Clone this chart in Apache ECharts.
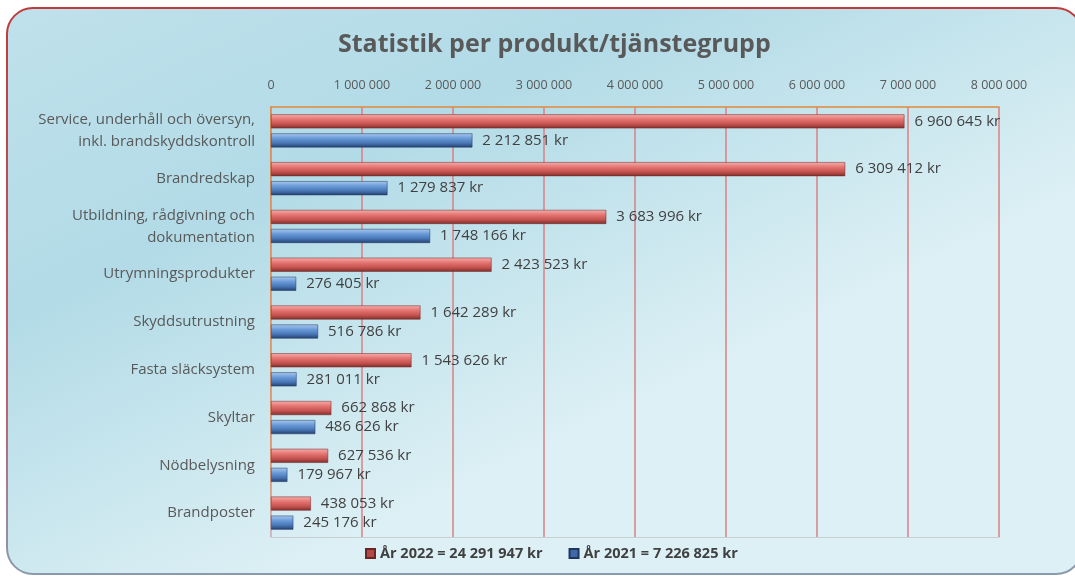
<!DOCTYPE html>
<html>
<head>
<meta charset="utf-8">
<script src="https://cdn.jsdelivr.net/npm/echarts@6/dist/echarts.min.js"></script>
<style>
html, body { margin: 0; padding: 0; background: #fff; }
#chart { width: 1075px; height: 576px; }
</style>
</head>
<body>
<div id="chart"></div>
<script>
// kategorier, uppifrån och ned
const categories = [
    'Service, underhåll och översyn,\ninkl. brandskyddskontroll',
    'Brandredskap',
    'Utbildning, rådgivning och\ndokumentation',
    'Utrymningsprodukter',
    'Skyddsutrustning',
    'Fasta släcksystem',
    'Skyltar',
    'Nödbelysning',
    'Brandposter'
];
const values2022 = [6960645, 6309412, 3683996, 2423523, 1642289, 1543626, 662868, 627536, 438053];
const values2021 = [2212851, 1279837, 1748166, 276405, 516786, 281011, 486626, 179967, 245176];
const legendNames = ['År 2022 = 24 291 947 kr', 'År 2021 = 7 226 825 kr'];
const axisTicks = [0, 1000000, 2000000, 3000000, 4000000, 5000000, 6000000, 7000000, 8000000];

const font = '"Open Sans", Lato, sans-serif';

// tusentalsavgränsare med mellanslag
function fmt(v) {
    return String(v).replace(/\B(?=(\d{3})+(?!\d))/g, ' ');
}

const myChart = echarts.init(document.getElementById('chart'));

const redGrad = new echarts.graphic.LinearGradient(0, 0, 0, 1, [
    { offset: 0, color: '#f5aeac' },
    { offset: 0.35, color: '#e57572' },
    { offset: 0.7, color: '#c4524f' },
    { offset: 1, color: '#7e2e2c' }
]);
const blueGrad = new echarts.graphic.LinearGradient(0, 0, 0, 1, [
    { offset: 0, color: '#a9c8ee' },
    { offset: 0.35, color: '#6a9bd8' },
    { offset: 0.7, color: '#4775b4' },
    { offset: 1, color: '#243f6e' }
]);

const barLabel = {
    show: true,
    position: 'right',
    distance: 10,
    fontFamily: font,
    fontSize: 15,
    color: '#404040',
    formatter: p => fmt(p.value) + ' kr'
};

const option = {
    backgroundColor: '#ffffff',
    animation: false,
    graphic: [
        {
            type: 'rect',
            z: -10,
            silent: true,
            shape: { x: 7, y: 8, width: 1075, height: 566, r: 26 },
            style: {
                fill: new echarts.graphic.LinearGradient(0, 0, 0.25, 1, [
                    { offset: 0, color: '#bfe1eb' },
                    { offset: 0.45, color: '#b2dbe7' },
                    { offset: 0.8, color: '#cde8ef' },
                    { offset: 1, color: '#dcf0f5' }
                ]),
                stroke: new echarts.graphic.LinearGradient(0, 0, 0, 1, [
                    { offset: 0, color: '#c0393b' },
                    { offset: 0.7, color: '#c06070' },
                    { offset: 1, color: '#8a9aae' }
                ]),
                lineWidth: 2
            }
        }
    ],
    title: {
        text: 'Statistik per produkt/tjänstegrupp',
        left: 333,
        top: 27,
        textStyle: {
            fontFamily: font,
            fontSize: 25,
            fontWeight: 'bold',
            color: '#595959'
        }
    },
    legend: {
        bottom: 10,
        left: 360,
        itemWidth: 9,
        itemHeight: 9,
        itemGap: 26,
        textStyle: {
            fontFamily: font,
            fontSize: 14.5,
            fontWeight: 'bold',
            color: '#404040'
        },
        data: [
            { name: legendNames[0], icon: 'rect', itemStyle: { color: '#b34744' } },
            { name: legendNames[1], icon: 'rect', itemStyle: { color: '#3f6aa8' } }
        ]
    },
    grid: {
        left: 271,
        right: 76,
        top: 107,
        bottom: 39
    },
    xAxis: [
        {
            type: 'value',
            position: 'top',
            min: axisTicks[0],
            max: axisTicks[axisTicks.length - 1],
            interval: 1000000,
            axisLine: { show: true, lineStyle: { color: '#e08a3c', width: 1.5 } },
            axisTick: { show: false },
            axisLabel: {
                fontFamily: font,
                fontSize: 12.5,
                color: '#595959',
                margin: 15,
                formatter: fmt
            },
            splitLine: { show: true, lineStyle: { color: '#d98084', width: 1.5 } }
        },
        {
            // nedre kantlinje
            type: 'value',
            position: 'bottom',
            min: axisTicks[0],
            max: axisTicks[axisTicks.length - 1],
            interval: 1000000,
            axisLine: { show: true, lineStyle: { color: '#c9cdd2', width: 1 } },
            axisTick: { show: false },
            axisLabel: { show: false },
            splitLine: { show: false }
        }
    ],
    yAxis: [
        {
            type: 'category',
            inverse: true,
            data: categories,
            axisLine: { show: true, lineStyle: { color: '#c4c8cc' } },
            axisTick: { show: false },
            axisLabel: {
                fontFamily: font,
                fontSize: 15,
                color: '#595959',
                lineHeight: 22,
                margin: 16,
                align: 'right'
            }
        },
        {
            // högra kantlinje
            type: 'category',
            position: 'right',
            inverse: true,
            data: categories,
            axisLine: {
                show: true,
                lineStyle: {
                    width: 1.5,
                    color: new echarts.graphic.LinearGradient(0, 0, 0, 1, [
                        { offset: 0, color: '#e08a3c' },
                        { offset: 0.85, color: '#e09a6a' },
                        { offset: 1, color: '#c3c2d4' }
                    ])
                }
            },
            axisTick: { show: false },
            axisLabel: { show: false },
            splitLine: { show: false }
        }
    ],
    series: [
        {
            name: legendNames[0],
            type: 'bar',
            data: values2022,
            barWidth: 14,
            barGap: '36%',
            itemStyle: { color: redGrad, borderColor: '#6a2422', borderWidth: 0.5 },
            label: barLabel
        },
        {
            name: legendNames[1],
            type: 'bar',
            data: values2021,
            barWidth: 14,
            itemStyle: { color: blueGrad, borderColor: '#1e365e', borderWidth: 0.5 },
            label: barLabel
        }
    ]
};

myChart.setOption(option);
</script>
</body>
</html>
